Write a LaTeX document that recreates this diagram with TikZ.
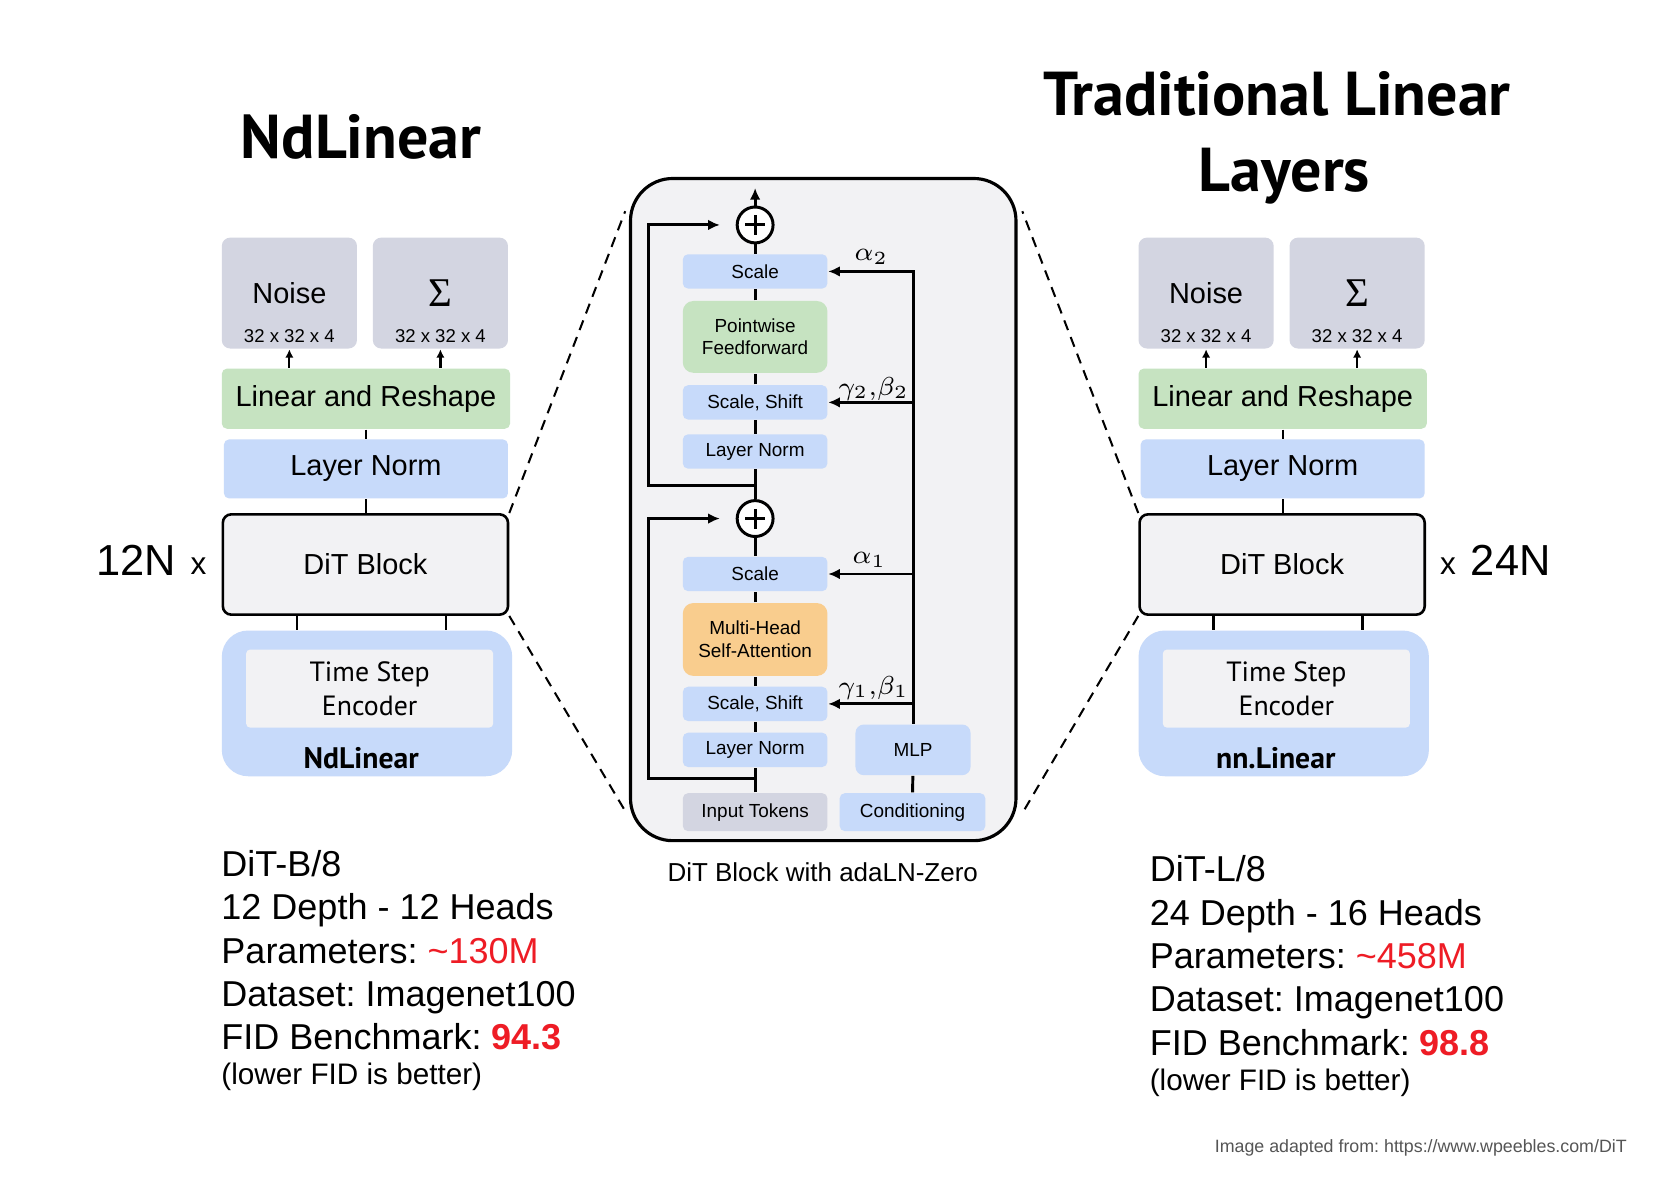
\documentclass[tikz,border=0pt]{standalone}
\usepackage{fontspec}
\setmainfont{Liberation Sans}
\newfontfamily\ptsans{PT Sans}
\newfontfamily\sigmafont{Liberation Serif}
\usepackage{tikz}
\usetikzlibrary{arrows.meta}
\frenchspacing

\begin{document}
\begin{tikzpicture}[x=0.1mm, y=-0.1mm,
  blk/.style={inner sep=0pt, align=center, rounded corners=0.5mm},
  outblk/.style={blk, fill=colGray, minimum width=12.8mm, minimum height=10.5mm, rounded corners=0.8mm},
  linblk/.style={blk, fill=colGreen, minimum width=27.3mm, minimum height=5.7mm, font=\fontsize{7.8}{9}\selectfont},
  normblk/.style={blk, fill=colBlue, minimum width=26.9mm, minimum height=5.6mm, font=\fontsize{7.8}{9}\selectfont},
  ditblk/.style={blk, draw=black, line width=0.7pt, fill=colLight, minimum width=27mm, minimum height=9.5mm, rounded corners=0.8mm, font=\fontsize{7.8}{9}\selectfont},
  encblk/.style={blk, fill=colBlue, minimum width=27.5mm, minimum height=13.8mm, rounded corners=2.5mm},
  tseblk/.style={blk, fill=colLight, minimum width=23.4mm, minimum height=7.4mm, rounded corners=0.4mm, font=\ptsans\fontsize{7.5}{9.1}\selectfont},
  midblk/.style={blk, fill=colBlue, minimum width=13.7mm, minimum height=3.25mm, font=\fontsize{5.1}{6.1}\selectfont},
  sumcirc/.style={circle, draw=black, line width=0.8pt, fill=white, minimum size=3.4mm, inner sep=0pt},
  link/.style={line width=0.8pt},
  feedarrow/.style={link, -{Latex[length=1.1mm, width=1mm]}},
  thinlink/.style={line width=0.6pt},
  upfeed/.style={thinlink, -{Latex[length=0.8mm, width=0.8mm]}},
  zoomline/.style={line width=0.55pt, dash pattern=on 2.8pt off 2pt},
  big/.style={inner sep=0pt, font=\fontsize{7.8}{9}\selectfont},
  dims/.style={inner sep=0pt, font=\fontsize{5}{6}\selectfont},
  sigtxt/.style={inner sep=0pt, font=\sigmafont\fontsize{11}{12}\selectfont},
  encname/.style={inner sep=0pt, font=\ptsans\bfseries\fontsize{8}{9}\selectfont},
  greek/.style={inner sep=0pt, font=\fontsize{7}{8}\selectfont},
  info/.style={anchor=base west, inner sep=0pt, font=\fontsize{9.7}{11.7}\selectfont},
  note/.style={anchor=base west, inner sep=0pt, font=\fontsize{8}{9.6}\selectfont},
  headline/.style={anchor=base, inner sep=0pt, font=\ptsans\bfseries\fontsize{16.7}{20}\selectfont},
  mult/.style={anchor=base, inner sep=0pt, font=\fontsize{11.7}{14}\selectfont},
  times/.style={anchor=base, inner sep=0pt, font=\fontsize{8.5}{10}\selectfont},
]

% Colori
\definecolor{colGray}{HTML}{D3D5E1}
\definecolor{colGreen}{HTML}{C6E3C1}
\definecolor{colBlue}{HTML}{C7DAFA}
\definecolor{colOrange}{HTML}{F9CD8E}
\definecolor{colLight}{HTML}{F2F2F4}
\definecolor{colRed}{HTML}{EE1C25}
\definecolor{colFoot}{HTML}{555555}

% Area della figura
\path[fill=white] (0,0) rectangle (1568,1125);
\useasboundingbox (0,0) rectangle (1568,1125);

% Colonna sinistra: NdLinear
\node[headline] (titleL) at (342,150) {NdLinear};
\node[outblk] (noiseL) at (274,277.5) {};
\node[big] (noiseLtxt) at (274,278) {Noise};
\node[dims] (noiseLdim) at (274,318) {32 x 32 x 4};
\node[outblk] (sigmaL) at (417,277.5) {};
\node[sigtxt] (sigmaLtxt) at (417,278) {Σ};
\node[dims] (sigmaLdim) at (417,318) {32 x 32 x 4};
\node[linblk] (linL) at (346.5,377.5) {Linear and Reshape};
\node[normblk] (normL) at (346.5,444) {Layer Norm};
\node[ditblk] (ditL) at (346,534.5) {DiT Block};
\node[encblk] (encL) at (347.5,666) {};
\node[tseblk] (tseL) at (350,652) {Time Step\\Encoder};
\node[encname] (encLname) at (342,718) {NdLinear};
\node[mult] (multL) at (129,545) {12N};
\node[times] (timesL) at (188,544) {x};

\draw[upfeed] (linL.north -| noiseL) -- (noiseL.south);
\draw[upfeed] (linL.north -| sigmaL) -- (sigmaL.south);
\draw[thinlink] (linL) -- (normL);
\draw[thinlink] (normL.south) -- (normL.south |- ditL.north);
\draw[thinlink] ([xshift=-6.5mm]ditL.south) -- ([xshift=-6.5mm]ditL.south |- encL.north);
\draw[thinlink] ([xshift=7.6mm]ditL.south) -- ([xshift=7.6mm]ditL.south |- encL.north);

% Dati DiT-B/8
\node[info] (depL1) at (209,830) {DiT-B/8};
\node[info] (depL2) at (209,871) {12 Depth - 12 Heads};
\node[info] (depL3) at (209,912) {Parameters: \textcolor{colRed}{\textasciitilde130M}};
\node[info] (depL4) at (209,953) {Dataset: Imagenet100};
\node[info] (depL5) at (209,994) {FID Benchmark: \textcolor{colRed}{\textbf{94.3}}};
\node[note] (depL6) at (209,1027) {(lower FID is better)};

% Colonna destra: livelli lineari tradizionali
\node[headline] (titleR1) at (1209,109) {Traditional Linear};
\node[headline] (titleR2) at (1216,181) {Layers};
\node[outblk] (noiseR) at (1142,277.5) {};
\node[big] (noiseRtxt) at (1142,278) {Noise};
\node[dims] (noiseRdim) at (1142,318) {32 x 32 x 4};
\node[outblk] (sigmaR) at (1285,277.5) {};
\node[sigtxt] (sigmaRtxt) at (1285,278) {Σ};
\node[dims] (sigmaRdim) at (1285,318) {32 x 32 x 4};
\node[linblk] (linR) at (1214.5,377.5) {Linear and Reshape};
\node[normblk] (normR) at (1214.5,444) {Layer Norm};
\node[ditblk] (ditR) at (1214,534.5) {DiT Block};
\node[encblk] (encR) at (1215.5,666) {};
\node[tseblk] (tseR) at (1218,652) {Time Step\\Encoder};
\node[encname] (encRname) at (1208,718) {nn.Linear};
\node[times] (timesR) at (1371,544) {x};
\node[mult] (multR) at (1430.5,545) {24N};

\draw[upfeed] (linR.north -| noiseR) -- (noiseR.south);
\draw[upfeed] (linR.north -| sigmaR) -- (sigmaR.south);
\draw[thinlink] (linR) -- (normR);
\draw[thinlink] (normR.south) -- (normR.south |- ditR.north);
\draw[thinlink] ([xshift=-6.5mm]ditR.south) -- ([xshift=-6.5mm]ditR.south |- encR.north);
\draw[thinlink] ([xshift=7.6mm]ditR.south) -- ([xshift=7.6mm]ditR.south |- encR.north);

% Dati DiT-L/8
\node[info] (depR1) at (1088,835) {DiT-L/8};
\node[info] (depR2) at (1088,876) {24 Depth - 16 Heads};
\node[info] (depR3) at (1088,917) {Parameters: \textcolor{colRed}{\textasciitilde458M}};
\node[info] (depR4) at (1088,958) {Dataset: Imagenet100};
\node[info] (depR5) at (1088,999) {FID Benchmark: \textcolor{colRed}{\textbf{98.8}}};
\node[note] (depR6) at (1088,1033) {(lower FID is better)};

% Blocco DiT centrale (adaLN-Zero)
\node[blk, draw=black, line width=0.85pt, fill=colLight, minimum width=36.5mm, minimum height=62.7mm, rounded corners=4mm] (dit) at (779.5,482.5) {};
\node[inner sep=0pt, font=\fontsize{7}{8.4}\selectfont] (ditcap) at (779,826) {DiT Block with adaLN-Zero};

\node[sumcirc] (add2) at (715,213) {};
\node[midblk] (scale2) at (715,257) {Scale};
\node[midblk, fill=colGreen, minimum height=6.8mm, rounded corners=1mm] (ffn) at (715,319) {Pointwise\\Feedforward};
\node[midblk] (shift2) at (715,381) {Scale, Shift};
\node[midblk] (norm2) at (715,427.5) {Layer Norm};
\node[sumcirc] (add1) at (715,491) {};
\node[midblk] (scale1) at (715,543.5) {Scale};
\node[midblk, fill=colOrange, minimum height=6.9mm, rounded corners=1mm] (attn) at (715,605.5) {Multi-Head\\Self-Attention};
\node[midblk] (shift1) at (715,666.5) {Scale, Shift};
\node[midblk] (norm1) at (715,710) {Layer Norm};
\node[midblk, fill=colGray, minimum height=3.6mm] (tokens) at (715,769) {Input Tokens};
\node[midblk, minimum width=13.8mm, minimum height=3.6mm] (cond) at (864,769) {Conditioning};
\node[midblk, minimum width=10.9mm, minimum height=4.8mm, rounded corners=0.8mm] (mlp) at (864.5,710) {MLP};

% Simboli di somma
\draw[link] ([xshift=-0.95mm]add2.center) -- ([xshift=0.95mm]add2.center) ([yshift=-0.95mm]add2.center) -- ([yshift=0.95mm]add2.center);
\draw[link] ([xshift=-0.95mm]add1.center) -- ([xshift=0.95mm]add1.center) ([yshift=-0.95mm]add1.center) -- ([yshift=0.95mm]add1.center);

% Percorso principale
\coordinate (out) at (715,178);
\coordinate (skip1) at (715,737);
\coordinate (skip2) at (715,460);
\draw[link] (tokens) -- (norm1);
\draw[link] (norm1) -- (shift1);
\draw[link] (shift1) -- (attn);
\draw[link] (attn) -- (scale1);
\draw[link] (scale1) -- (add1);
\draw[link] (add1) -- (norm2);
\draw[link] (norm2) -- (shift2);
\draw[link] (shift2) -- (ffn);
\draw[link] (ffn) -- (scale2);
\draw[link] (scale2) -- (add2);
\draw[feedarrow] (add2) -- (out);

% Connessioni residue
\draw[feedarrow, shorten >=1.5mm] (skip1) -- ++(-101,0) |- (add1.west);
\draw[feedarrow, shorten >=1.5mm] (skip2) -- ++(-101,0) |- (add2.west);

% Condizionamento
\draw[link] (cond) -- (mlp);
\draw[feedarrow] (mlp.north) |- (scale2.east);
\draw[feedarrow] (mlp |- shift2) -- (shift2.east);
\draw[feedarrow] (mlp |- scale1) -- (scale1.east);
\draw[feedarrow] (mlp |- shift1) -- (shift1.east);
\node[greek] (a2) at (825,243) {$\alpha_2$};
\node[greek] (gb2) at (827,368) {$\gamma_2{,}\beta_2$};
\node[greek] (a1) at (823,530) {$\alpha_1$};
\node[greek] (gb1) at (827,651) {$\gamma_1{,}\beta_1$};

% Linee di ingrandimento
\coordinate (zoomTL) at (592,200);
\coordinate (zoomBL) at (592,768);
\coordinate (zoomTR) at (968,200);
\coordinate (zoomBR) at (968,770);
\draw[zoomline] (ditL.north east) -- (zoomTL);
\draw[zoomline] (ditL.south east) -- (zoomBL);
\draw[zoomline] (ditR.north west) -- (zoomTR);
\draw[zoomline] (ditR.south west) -- (zoomBR);

% Fonte
\node[anchor=base east, inner sep=0pt, text=colFoot, font=\fontsize{4.8}{6}\selectfont] (credit) at (1541,1091) {Image adapted from: https://www.wpeebles.com/DiT};

\end{tikzpicture}
\end{document}
